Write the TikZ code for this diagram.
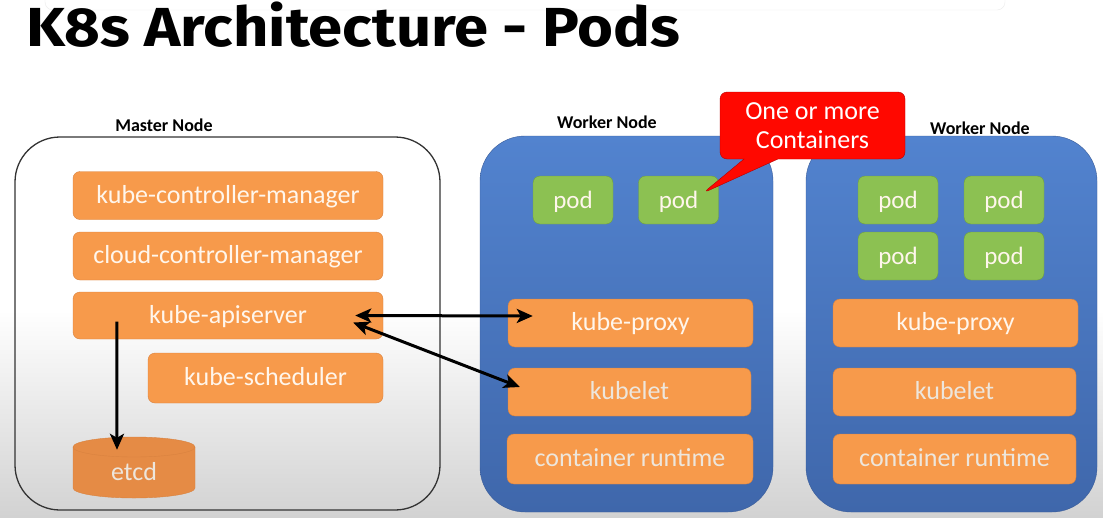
\documentclass[tikz,border=0pt]{standalone}
\usepackage{fontspec}
\setmainfont{Carlito}
\newfontfamily\titlefont{Fira Sans}
\usetikzlibrary{arrows.meta,shapes.callouts,positioning}
\definecolor{boxorange}{HTML}{F79A4B}
\definecolor{orangeline}{HTML}{D9823F}
\definecolor{etcdorange}{HTML}{E58B45}
\definecolor{labeltext}{HTML}{FFF6EC}
\definecolor{dimtext}{HTML}{EDE6DC}
\definecolor{bluetop}{HTML}{5283CF}
\definecolor{bluebot}{HTML}{3F67AB}
\definecolor{blueline}{HTML}{3A5C98}
\definecolor{podgreen}{HTML}{8CC152}
\definecolor{podline}{HTML}{6E9F3E}
\definecolor{notered}{HTML}{FF0800}
\definecolor{noteline}{HTML}{B30000}
\definecolor{bgbottom}{HTML}{D2D2D2}
\begin{document}
\begin{tikzpicture}[x=1pt,y=-1pt,
    comp/.style={draw=orangeline, fill=boxorange, rounded corners=7pt, text=labeltext,
      font=\fontsize{26}{28}\selectfont, text height=19pt, text depth=4pt,
      inner sep=0pt, minimum height=48pt},
    pod/.style={draw=podline, fill=podgreen, rounded corners=7pt, text=labeltext,
      font=\fontsize{25}{27}\selectfont, text height=20pt, text depth=4pt,
      inner sep=0pt, minimum width=80pt, minimum height=48pt},
    worker/.style={draw=blueline, top color=bluetop, bottom color=bluebot, rounded corners=45pt,
      inner sep=0pt, minimum height=376pt},
    master/.style={draw=black!80, line width=1.3pt, rounded corners=45pt, inner sep=0pt},
    caption/.style={font=\bfseries\fontsize{18}{20}\selectfont, inner sep=0pt},
    link/.style={line width=3pt, >={Stealth[length=16pt,width=14pt,inset=4pt]}}]
  \useasboundingbox (0,0) rectangle (1103,517);
  % background
  \fill[white] (0,0) rectangle (1103,310);
  \shade[top color=white, bottom color=bgbottom] (0,310) rectangle (1103,517);
  \fill[white, draw=black!8, rounded corners=8pt] (45,-12) rectangle (1005,10);
  % title
  \node[anchor=base west, inner sep=0pt, font=\titlefont\bfseries\fontsize{55}{60}\selectfont] (title)
    at (26,46) {\scalebox{1.12}[1]{K8s Architecture - Pods}};
  % master
  \node[master, minimum width=425pt, minimum height=373pt] (M) at (227.5,323.5) {};
  \node[caption] (M_lbl) at (164,125) {Master Node};
  \node[comp, minimum width=310pt] (M_0) at (228,195.5) {kube-controller-manager};
  \node[comp, minimum width=310pt] (M_1) at (228,256) {cloud-controller-manager};
  \node[comp, minimum width=310pt, minimum height=47pt] (M_2) at (228,315.5) {kube-apiserver};
  \node[comp, minimum width=235pt, minimum height=50pt] (M_3) at (265.5,378) {kube-scheduler};
  \filldraw[draw=orangeline, fill=etcdorange] (73,447) -- (73,488) arc (180:360:61pt and 10pt)
    -- (195,447) arc (0:180:61pt and 10pt) -- cycle;
  \draw[orangeline] (73,447) arc (180:360:61pt and 10pt);
  \node[text=dimtext, font=\fontsize{26}{28}\selectfont, text height=19pt, text depth=4pt,
    inner sep=0pt, minimum width=122pt, minimum height=51pt] (etcd) at (134,472.5) {etcd};
  % worker 1
  \node[worker, minimum width=293pt] (W1) at (626.5,324) {};
  \node[caption] (W1_lbl) at (607,122) {Worker Node};
  \node[pod] (P1_0) at (573,200) {pod};
  \node[pod] (P1_1) at (678.5,200) {pod};
  \node[comp, minimum width=245pt] (W1_0) at (630.5,323) {kube-proxy};
  \node[comp, minimum width=243pt, text=dimtext] (W1_1) at (629.5,392) {kubelet};
  \node[comp, minimum width=246pt, minimum height=50pt, text=dimtext] (W1_2) at (630,459) {container runtime};
  % worker 2
  \node[worker, minimum width=291pt] (W2) at (951.5,324) {};
  \node[caption] (W2_lbl) at (980,128) {Worker Node};
  \node[pod] (P2_0) at (898,200) {pod};
  \node[pod] (P2_1) at (1004,200) {pod};
  \node[pod] (P2_2) at (898,256) {pod};
  \node[pod] (P2_3) at (1004,256) {pod};
  \node[comp, minimum width=245pt] (W2_0) at (955.5,323) {kube-proxy};
  \node[comp, minimum width=243pt, text=dimtext] (W2_1) at (954.5,392) {kubelet};
  \node[comp, minimum width=243pt, minimum height=50pt, text=dimtext] (W2_2) at (954.5,459) {container runtime};
  % callout
  \node[rectangle callout, draw=noteline, fill=notered, rounded corners=7pt, text=white,
    align=center, font=\fontsize{26}{29}\selectfont, inner sep=0pt,
    minimum width=185pt, minimum height=67pt, callout pointer width=34pt,
    callout absolute pointer={([xshift=24.5pt,yshift=7pt]P1_1.center)}] (note)
    at (812.5,125.5) {One or more\\Containers};
  % links
  \path ([xshift=44pt,yshift=-6pt]M_2.west) edge [->,link] ([xshift=-17pt,yshift=-3pt]etcd.north);
  \path ([xshift=-28pt]M_2.east) edge [<->,link] ([xshift=25pt,yshift=7pt]W1_0.west);
  \path ([xshift=-30pt,yshift=-7pt]M_2.east) edge [<->,link] ([xshift=12pt,yshift=5pt]W1_1.west);
\end{tikzpicture}
\end{document}
